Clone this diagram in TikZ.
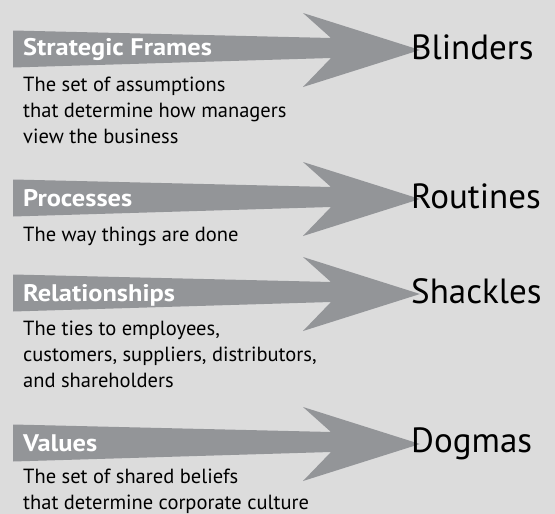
\documentclass[tikz,border=0pt]{standalone}
\usepackage{fontspec}
\setmainfont{PT Sans}
\newfontfamily\titlefont{PT Sans}[FakeStretch=1.1]
\definecolor{bgcol}{RGB}{220,220,220}
\definecolor{arrowgray}{RGB}{147,149,152}
\tikzset{
  titletext/.style={font=\titlefont\fontsize{24}{24}\selectfont\bfseries, text=white, inner sep=0pt, anchor=base west},
  desctext/.style={font=\fontsize{20.5}{26}\selectfont, align=left, inner sep=0pt, anchor=base west},
  bigtext/.style={font=\fontsize{35}{35}\selectfont, inner sep=0pt, anchor=base west},
  arrowfill/.style={fill=arrowgray}
}
\newcommand\fatarrow[1]{%
  \fill[arrowfill] (13,#1-18.5) -- (331,#1-11) -- (303,#1-36) -- (420,#1+1)
    -- (303,#1+38) -- (331,#1+9) -- (13,#1+18.5) -- cycle;}
\begin{document}
\begin{tikzpicture}[x=1pt,y=-1pt]
\fill[bgcol] (0,0) rectangle (555,514);
\useasboundingbox (0,0) rectangle (555,514);
% arrows
\fatarrow{49}
\fatarrow{198}
\fatarrow{293}
\fatarrow{443}
% row 1
\node[titletext] (t1) at (23,56) {Strategic Frames};
\node[desctext] (d1) at (23,143) {The set of assumptions\\that determine how managers\\view the business};
\node[bigtext] (b1) at (411,59) {Blinders};
% row 2
\node[titletext] (t2) at (23,206) {Processes};
\node[desctext] (d2) at (23,241) {The way things are done};
\node[bigtext] (b2) at (411,208) {Routines};
% row 3
\node[titletext] (t3) at (23,301) {Relationships};
\node[desctext] (d3) at (23,387) {The ties to employees,\\customers, suppliers, distributors,\\and shareholders};
\node[bigtext] (b3) at (411,303) {Shackles};
% row 4
\node[titletext] (t4) at (23,451) {Values};
\node[desctext] (d4) at (23,509) {The set of shared beliefs\\that determine corporate culture};
\node[bigtext] (b4) at (411,452) {Dogmas};
\end{tikzpicture}
\end{document}
